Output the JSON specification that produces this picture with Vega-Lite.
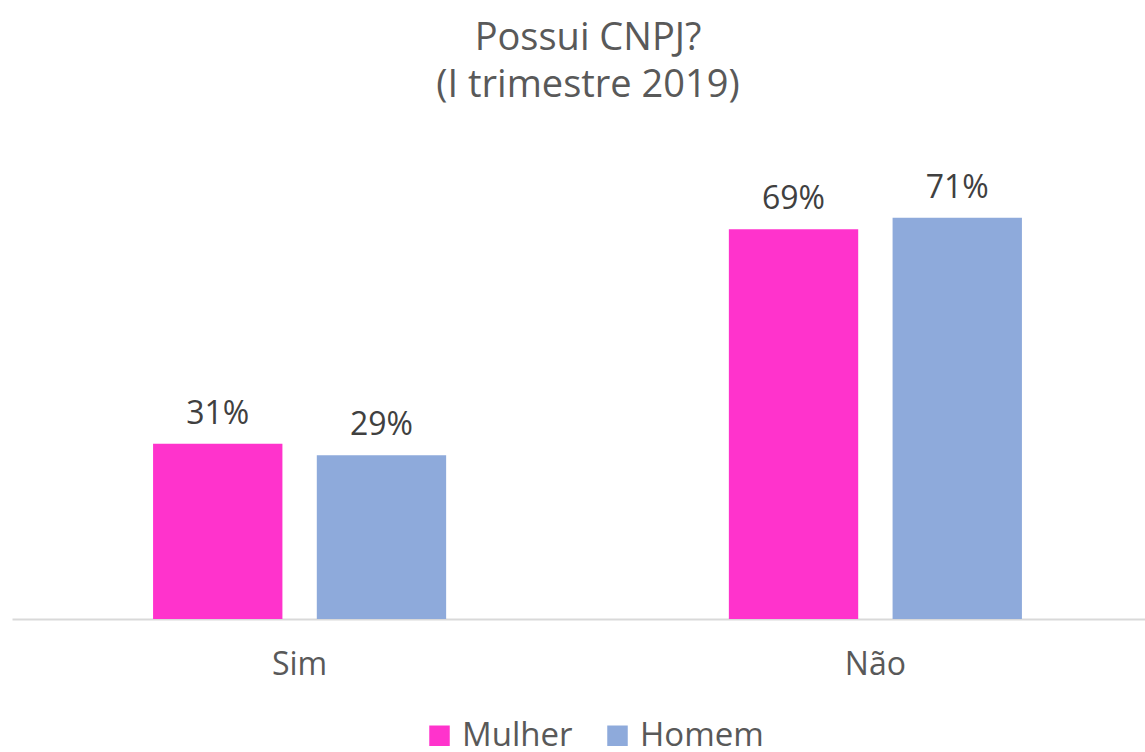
{
  "$schema": "https://vega.github.io/schema/vega-lite/v6.json",
  "width": 1151,
  "height": 452,
  "padding": {"left": 12, "top": 20, "right": 0, "bottom": 0},
  "background": "white",
  "title": {
    "text": ["Possui CNPJ?", "(I trimestre 2019)"],
    "font": "Open Sans",
    "fontSize": 38,
    "fontWeight": "normal",
    "color": "#595959",
    "lineHeight": 47,
    "anchor": "start",
    "align": "center",
    "dx": 576,
    "offset": 62
  },
  "data": {
    "values": [
      {"cat": "Sim", "sexo": "Mulher", "v": 0.31},
      {"cat": "Sim", "sexo": "Homem", "v": 0.29},
      {"cat": "Não", "sexo": "Mulher", "v": 0.69},
      {"cat": "Não", "sexo": "Homem", "v": 0.71}
    ]
  },
  "encoding": {
    "x": {
      "field": "cat", "type": "nominal", "sort": ["Sim", "Não"],
      "scale": {"paddingInner": 0.491, "paddingOuter": 0.245},
      "axis": {"title": null, "labelAngle": 0, "ticks": false, "domainColor": "#d9d9d9", "domainWidth": 2,
               "labelFont": "Open Sans", "labelFontSize": 32, "labelColor": "#595959", "labelPadding": 30}
    },
    "xOffset": {"field": "sexo", "type": "nominal", "sort": ["Mulher", "Homem"], "scale": {"paddingInner": 0.21}},
    "y": {"field": "v", "type": "quantitative", "scale": {"domain": [0, 0.8]}, "axis": null}
  },
  "layer": [
    {
      "mark": {"type": "bar"},
      "encoding": {
        "color": {
          "field": "sexo", "type": "nominal", "sort": ["Mulher", "Homem"],
          "scale": {"domain": ["Mulher", "Homem"], "range": ["#ff33cc", "#8eaadb"]},
          "legend": {"title": null, "orient": "none", "legendX": 411, "legendY": 552, "direction": "horizontal", "symbolType": "square",
                     "symbolSize": 420, "symbolStrokeWidth": 0, "symbolOpacity": 1, "labelFont": "Open Sans", "labelFontSize": 33,
                     "labelColor": "#595959", "labelOffset": 6, "columnPadding": 28}
        }
      }
    },
    {
      "mark": {"type": "text", "dy": -20, "baseline": "alphabetic", "font": "Open Sans", "fontSize": 32, "color": "#404040"},
      "encoding": {"text": {"field": "v", "type": "quantitative", "format": ".0%"}}
    }
  ],
  "config": {"view": {"stroke": null}, "axis": {"grid": false}}
}
